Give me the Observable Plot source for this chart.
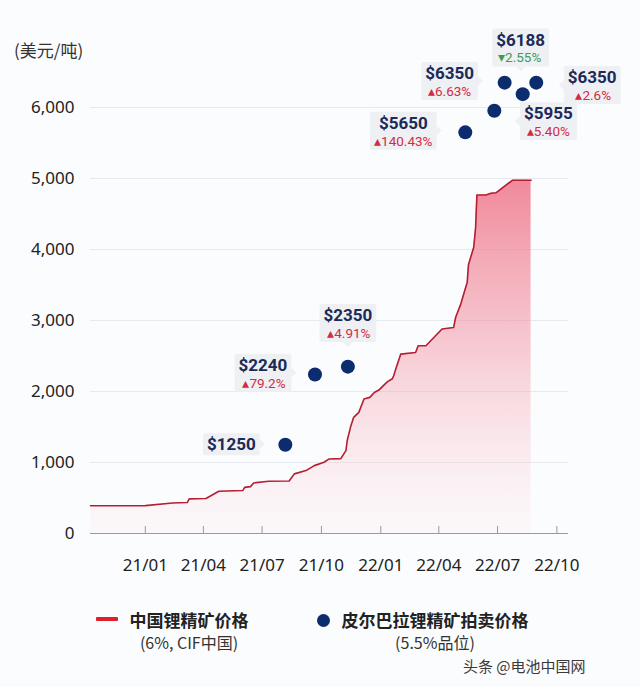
<!DOCTYPE html>
<html>
<head>
<meta charset="utf-8">
<script src="https://cdn.jsdelivr.net/npm/d3@7"></script>
<script src="https://cdn.jsdelivr.net/npm/@observablehq/plot@0.6"></script>
<style>
  html, body { margin: 0; padding: 0; background: #fbfcfe; }
  body { font-family: "Noto Sans", "Noto Sans CJK SC", sans-serif; }
  #wrap { position: relative; width: 640px; height: 687px; overflow: hidden; }
  #unit { position: absolute; left: 14px; top: 40px; font-size: 17px; line-height: 20px; color: #333;
          font-family: "Noto Sans CJK SC", "Noto Sans", sans-serif; }
  .lg { position: absolute; white-space: nowrap; transform: translateX(-50%);
        font-family: "Noto Sans CJK SC", "Noto Sans", sans-serif; color: #222; }
  .lg.title { font-size: 17px; line-height: 20px; font-weight: 700; }
  .lg.sub { font-size: 16px; line-height: 20px; color: #333; }
  #swLine { position: absolute; left: 96px; top: 617px; width: 22px; height: 4px; background: #de1f2c; border-radius: 1px; }
  #swDot { position: absolute; left: 317px; top: 614px; width: 13px; height: 13px; border-radius: 50%; background: #0c2c6e; }
  #mark { position: absolute; left: 463px; top: 657px; font-size: 15px; line-height: 18px; color: #3a3a3a;
          font-family: "Noto Sans CJK SC", sans-serif; white-space: nowrap; }
</style>
</head>
<body>
<div id="wrap">
  <div id="chart"></div>
  <div id="unit"></div>
  <div id="swLine"></div>
  <div id="swDot"></div>
  <div id="mark"></div>
</div>
<script>
// ---------- data ----------
const unitLabel = "(美元/吨)";
const seriesNames = ["中国锂精矿价格", "皮尔巴拉锂精矿拍卖价格"];
const seriesNotes = ["(6%, CIF中国)", "(5.5%品位)"];
const watermark = "头条 @电池中国网";

// China spodumene price (6%, CIF China), USD/t
const priceDates = [
  "2020-10-08","2021-01-01","2021-02-12","2021-03-07","2021-03-10","2021-04-05","2021-04-25",
  "2021-06-01","2021-06-04","2021-06-13","2021-06-18","2021-07-11","2021-08-12","2021-08-20",
  "2021-09-07","2021-09-20","2021-10-05","2021-10-13","2021-10-31","2021-11-08","2021-11-10",
  "2021-11-15","2021-11-20","2021-11-28","2021-12-06","2021-12-15","2021-12-22","2021-12-29",
  "2022-01-11","2022-01-19","2022-01-21","2022-01-24","2022-02-01","2022-02-24","2022-02-28",
  "2022-03-12","2022-04-06","2022-04-24","2022-04-27","2022-05-05","2022-05-15","2022-05-17",
  "2022-05-25","2022-05-28","2022-05-30","2022-06-13","2022-06-21","2022-06-29","2022-07-24",
  "2022-08-22"
];
const priceValues = [
  390,392,430,436,488,492,595,
  605,650,660,712,735,740,840,
  886,956,1003,1050,1055,1167,1310,
  1495,1636,1706,1894,1917,1987,2020,
  2135,2180,2222,2310,2527,2550,2644,
  2644,2880,2902,3042,3231,3540,3790,
  4027,4308,4768,4768,4792,4800,4975,
  4975
];

// Pilbara auction prices (5.5% grade), USD/t
const auctionDates  = ["2021-08-06","2021-09-21","2021-11-11","2022-05-12","2022-06-26","2022-07-12","2022-08-09","2022-08-30"];
const auctionValues = [1250, 2240, 2350, 5650, 5955, 6350, 6188, 6350];
const auctionChange = [null, "79.2%", "4.91%", "140.43%", "5.40%", "6.63%", "2.55%", "2.6%"];
const auctionUp     = [null, true, true, true, true, true, false, true];

// axis ticks
const xTickDates  = ["2021-01-01","2021-04-01","2021-07-01","2021-10-01","2022-01-01","2022-04-01","2022-07-01","2022-10-01"];
const xTickLabels = ["21/01","21/04","21/07","21/10","22/01","22/04","22/07","22/10"];
const yTicks = [0, 1000, 2000, 3000, 4000, 5000, 6000];

// ---------- label placement (style only) ----------
// [dx,dy of value text, dx,dy of change text, pointer side]
const labelPlacement = [
  [-54, 0, 0, 0, "right"],
  [-52, -9, -51, 9, "right"],
  [0, -51, 1, -33, "bottom"],
  [-62, -9, -62, 9, "right"],
  [54, 3, 54, 21, "left"],
  [-55, -9, -55, 9, "right"],
  [-2, -54, -3, -36, "bottom"],
  [56, -5, 57, 13, "left"]
];

// ---------- build ----------
const price = priceDates.map((d, i) => ({date: new Date(d), value: priceValues[i]}));
const auctions = auctionDates.map((d, i) => ({date: new Date(d), value: auctionValues[i], change: auctionChange[i], up: auctionUp[i], i}));
const xTicks = xTickDates.map(d => new Date(d));
const tickLabelOf = new Map(xTicks.map((d, i) => [+d, xTickLabels[i]]));

const W = 640, H = 590, mT = 36, mB = 57, mL = 90, mR = 72;
const innerH = H - mT - mB;
const annFont = "Roboto, 'Noto Sans', sans-serif";

const defs = () => {
  const ns = "http://www.w3.org/2000/svg";
  const d = document.createElementNS(ns, "defs");
  d.innerHTML = `<linearGradient id="pinkGrad" x1="0" y1="0" x2="0" y2="1">
      <stop offset="0" stop-color="#ee7488" stop-opacity="0.85"/>
      <stop offset="0.45" stop-color="#f39aaa" stop-opacity="0.55"/>
      <stop offset="1" stop-color="#fbd9de" stop-opacity="0.12"/>
    </linearGradient>`;
  return d;
};
const boxLayer = () => {
  const g = document.createElementNS("http://www.w3.org/2000/svg", "g");
  g.setAttribute("class", "ann-boxes");
  return g;
};

const annMarks = [];
auctions.forEach((a, i) => {
  const p = labelPlacement[i];
  annMarks.push(Plot.text([a], {
    x: "date", y: "value", text: d => "$" + d.value,
    dx: p[0], dy: p[1], fontSize: 17, fontWeight: 700, fill: "#1b2a57", fontFamily: annFont,
    className: "annv" + i
  }));
  if (a.change) {
    annMarks.push(Plot.text([a], {
      x: "date", y: "value", text: d => (d.up ? "▴" : "▾") + d.change,
      dx: p[2], dy: p[3], fontSize: 13.5, fill: d => d.up ? "#d22b43" : "#3b9c55", fontFamily: annFont,
      className: "annp" + i
    }));
  }
});

const chart = Plot.plot({
  width: W, height: H,
  marginTop: mT, marginBottom: mB, marginLeft: mL, marginRight: mR,
  style: {background: "transparent", fontFamily: "'Noto Sans', 'Noto Sans CJK SC', sans-serif", color: "#222"},
  x: {type: "utc", domain: [new Date("2020-10-08"), new Date("2022-10-19")]},
  y: {domain: [0, 7000]},
  marks: [
    defs,
    Plot.gridY(yTicks.slice(1), {stroke: "#e6e9ef", strokeOpacity: 1}),
    Plot.areaY(price, {x: "date", y: "value", fill: "url(#pinkGrad)"}),
    Plot.lineY(price, {x: "date", y: "value", stroke: "#b51f33", strokeWidth: 1.6}),
    Plot.ruleY([0], {stroke: "#9a9a9a", strokeWidth: 1}),
    Plot.ruleX(xTicks, {x: d => d, insetTop: innerH - 7, stroke: "#9a9a9a"}),
    Plot.axisY({ticks: yTicks, tickSize: 0, tickPadding: 16, fontSize: 17, tickFormat: d3.format(","), label: null, fill: "#222"}),
    Plot.axisX({ticks: xTicks, tickSize: 0, tickPadding: 25, fontSize: 17, tickFormat: d => tickLabelOf.get(+d), label: null, fill: "#222"}),
    Plot.dot(auctions, {x: "date", y: "value", r: 7, fill: "#0c2c6e"}),
    boxLayer,
    ...annMarks
  ]
});

document.getElementById("chart").appendChild(chart);

// ---------- label boxes ----------
(function addBoxes() {
  const svg = chart.tagName.toLowerCase() === "svg" ? chart : chart.querySelector("svg");
  const layer = svg.querySelector("g.ann-boxes");
  const ns = "http://www.w3.org/2000/svg";
  auctions.forEach((a, i) => {
    const els = [...svg.querySelectorAll(`.annv${i} text, .annp${i} text`)];
    if (!els.length) return;
    let x0 = Infinity, y0 = Infinity, x1 = -Infinity, y1 = -Infinity;
    els.forEach(el => {
      const b = el.getBBox();
      const t = el.transform && el.transform.baseVal.consolidate();
      const m = t ? t.matrix : {e: 0, f: 0};
      const g = el.parentNode;
      const gt = g.transform && g.transform.baseVal.consolidate();
      const gm = gt ? gt.matrix : {e: 0, f: 0};
      x0 = Math.min(x0, b.x + m.e + gm.e); y0 = Math.min(y0, b.y + m.f + gm.f);
      x1 = Math.max(x1, b.x + b.width + m.e + gm.e); y1 = Math.max(y1, b.y + b.height + m.f + gm.f);
    });
    const padX = 4, padY = 1;
    x0 -= padX; x1 += padX; y0 -= padY; y1 += padY;
    const r = document.createElementNS(ns, "rect");
    r.setAttribute("x", x0); r.setAttribute("y", y0);
    r.setAttribute("width", x1 - x0); r.setAttribute("height", y1 - y0);
    r.setAttribute("rx", 2); r.setAttribute("fill", "#eef0f4");
    layer.appendChild(r);
    const side = labelPlacement[i][4];
    const tri = document.createElementNS(ns, "path");
    const cy = (y0 + y1) / 2, cx = (x0 + x1) / 2, s = 5;
    let d;
    if (side === "right") d = `M${x1},${cy - s}L${x1 + s},${cy}L${x1},${cy + s}Z`;
    else if (side === "left") d = `M${x0},${cy - s}L${x0 - s},${cy}L${x0},${cy + s}Z`;
    else if (side === "bottom") d = `M${cx - s},${y1}L${cx},${y1 + s}L${cx + s},${y1}Z`;
    else d = `M${cx - s},${y0}L${cx},${y0 - s}L${cx + s},${y0}Z`;
    tri.setAttribute("d", d); tri.setAttribute("fill", "#eef0f4");
    layer.appendChild(tri);
  });
})();

// ---------- header & legend ----------
document.getElementById("unit").textContent = unitLabel;
document.getElementById("mark").textContent = watermark;
const wrap = document.getElementById("wrap");
const legendCenters = [189, 435];
seriesNames.forEach((name, i) => {
  const t = document.createElement("div");
  t.className = "lg title"; t.textContent = name;
  t.style.left = legendCenters[i] + "px"; t.style.top = "610px";
  wrap.appendChild(t);
  const s = document.createElement("div");
  s.className = "lg sub"; s.textContent = seriesNotes[i];
  s.style.left = legendCenters[i] + "px"; s.style.top = "632px";
  wrap.appendChild(s);
});
</script>
</body>
</html>
